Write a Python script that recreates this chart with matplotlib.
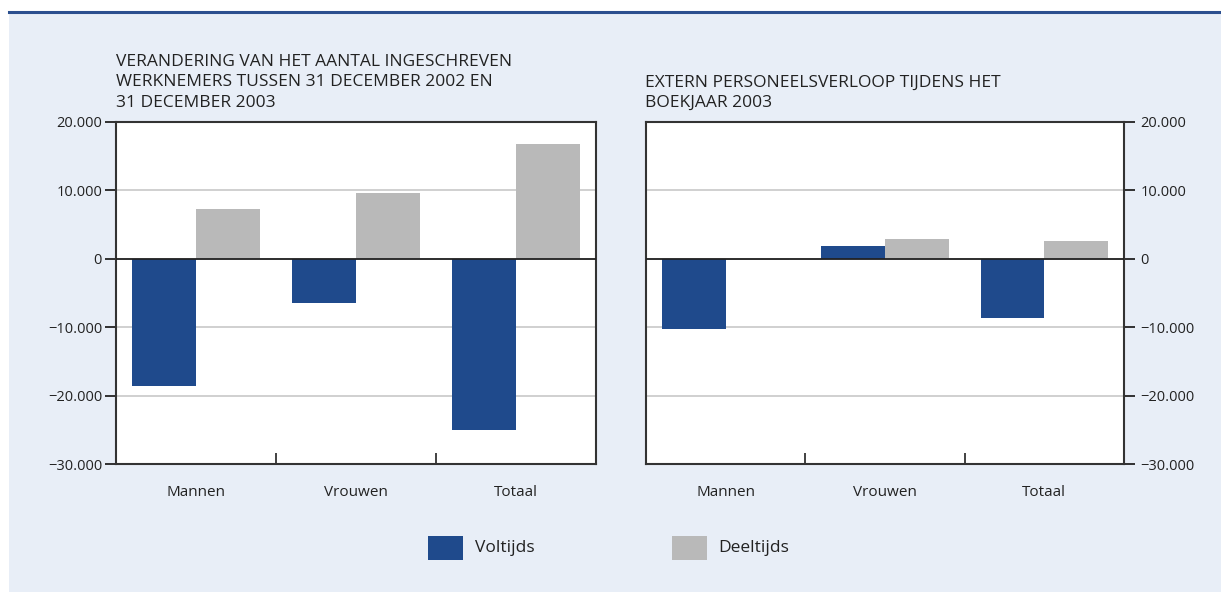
import matplotlib
matplotlib.use("Agg")
import matplotlib.pyplot as plt
from matplotlib.patches import Rectangle
import numpy as np

plt.rcParams['font.family'] = ['Open Sans', 'DejaVu Sans']

categories = ["Mannen", "Vrouwen", "Totaal"]
series_names = ["Voltijds", "Deeltijds"]
left_voltijds = [-18600, -6400, -25100]
left_deeltijds = [7300, 9600, 16800]
right_voltijds = [-10300, 1800, -8700]
right_deeltijds = [-150, 2900, 2600]
yticks = [20000, 10000, 0, -10000, -20000, -30000]
ytick_labels = ["20.000", "10.000", "0", "\u221210.000", "\u221220.000", "\u221230.000"]
left_title = ["VERANDERING VAN HET AANTAL INGESCHREVEN",
              "WERKNEMERS TUSSEN 31 DECEMBER 2002 EN",
              "31 DECEMBER 2003"]
right_title = ["EXTERN PERSONEELSVERLOOP TIJDENS HET",
               "BOEKJAAR 2003"]

W, H = 1221, 592
BLUE = "#1f4a8c"
GREY = "#b9b9b9"
BG = "#e8eef7"
TXT = "#222222"

fig = plt.figure(figsize=(W / 100, H / 100), dpi=100)
fig.patch.set_facecolor("white")
fig.patches.append(Rectangle((9 / W, 0), 1 - 9 / W, (H - 12) / H, transform=fig.transFigure,
                             facecolor=BG, edgecolor="none", zorder=-10))
fig.lines.append(plt.Line2D([9 / W, 1], [(H - 11.5) / H] * 2, transform=fig.transFigure,
                            color="#2b4f8f", lw=2.2, zorder=-9))


def px_axes(x0, y_top, w, h):
    return fig.add_axes([x0 / W, (H - y_top - h) / H, w / W, h / H])


def draw(ax, volt, deel, side):
    x = np.arange(len(categories))
    bw = 0.4
    ax.set_facecolor("white")
    ax.bar(x - bw / 2, volt, width=bw, color=BLUE, zorder=3)
    ax.bar(x + bw / 2, deel, width=bw, color=GREY, zorder=3)
    ax.set_xlim(-0.5, len(categories) - 0.5)
    ax.set_ylim(-30000, 20000)
    for v in [10000, 0, -10000, -20000]:
        ax.axhline(v, color="#c8c8c8", lw=1.2, zorder=1)
    ax.axhline(0, color="#222222", lw=1.3, zorder=4)
    ax.set_yticks(yticks)
    ax.set_yticklabels(ytick_labels)
    ax.set_xticks(x)
    ax.set_xticklabels(categories)
    ax.set_xticks(x[:-1] + 0.5, minor=True)
    ax.tick_params(axis="x", which="major", length=0, pad=15, labelsize=11, labelcolor=TXT)
    ax.tick_params(axis="x", which="minor", direction="in", length=8, width=1.3, color="#333333")
    if side == "left":
        ax.tick_params(axis="y", length=8, width=1.3, color="#222222", labelsize=10.5,
                       labelcolor=TXT, pad=2)
    else:
        ax.yaxis.tick_right()
        ax.tick_params(axis="y", length=8, width=1.3, color="#222222", labelsize=10.5,
                       labelcolor=TXT, pad=4, left=False, right=True)
    for s in ax.spines.values():
        s.set_color("#333333")
        s.set_linewidth(1.5)


axL = px_axes(116, 122, 480, 342)
draw(axL, left_voltijds, left_deeltijds, "left")
axR = px_axes(646, 122, 478, 342)
draw(axR, right_voltijds, right_deeltijds, "right")

for i, line in enumerate(left_title):
    fig.text(116 / W, (H - 66 - i * 20.5) / H, line, fontsize=12.5, color=TXT, va="baseline", ha="left")
for i, line in enumerate(right_title):
    fig.text(645 / W, (H - 86.5 - i * 20.5) / H, line, fontsize=12.5, color=TXT, va="baseline", ha="left")

# legend
for (xp, xt, col, name) in [(428, 475, BLUE, series_names[0]), (672, 718, GREY, series_names[1])]:
    fig.patches.append(Rectangle((xp / W, (H - 560) / H), 35 / W, 24 / H, transform=fig.transFigure,
                                 facecolor=col, edgecolor="none", zorder=2))
    fig.text(xt / W, (H - 548) / H, name, fontsize=12.5, color=TXT, va="center", ha="left")

fig.savefig("out.png", dpi=100, facecolor=fig.get_facecolor())
